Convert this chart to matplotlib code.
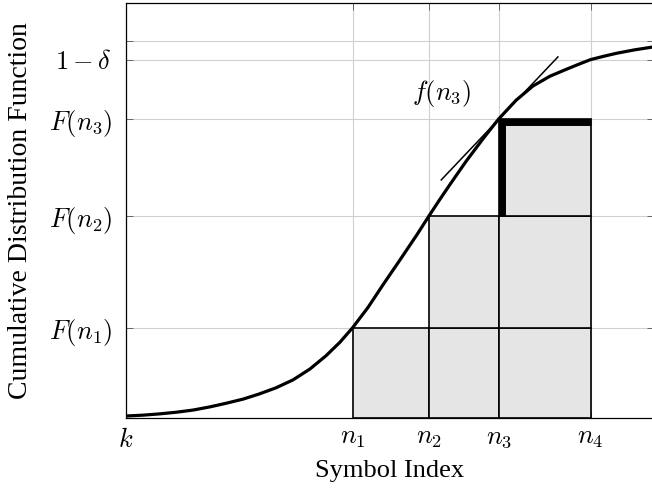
"""
CDF of the symbol index with the staircase of decoding cells
"""
import matplotlib
matplotlib.use('Agg')
import matplotlib.pyplot as plt
from matplotlib.transforms import offset_copy

plt.rcParams['mathtext.fontset'] = 'cm'
plt.rcParams['font.family'] = ['Liberation Serif', 'DejaVu Serif']

# curve
cdf_x = [0.0, 0.32, 0.625, 0.947, 1.269, 1.591, 1.894, 2.216, 2.519, 2.841,
         3.163, 3.485, 3.788, 4.053, 4.29, 4.583, 4.867, 5.189, 5.511, 5.74,
         5.947, 6.136, 6.439, 6.761, 7.06, 7.386, 7.708, 8.030, 8.352, 8.598,
         8.80, 9.053, 9.299, 9.640, 9.962, 10.0]
cdf_y = [0.0053, 0.0075, 0.0108, 0.0152, 0.021, 0.0295, 0.039, 0.050, 0.0635,
         0.080, 0.101, 0.130, 0.165, 0.201, 0.239, 0.293, 0.353, 0.419, 0.486,
         0.536, 0.580, 0.619, 0.680, 0.740, 0.793, 0.842, 0.880, 0.906, 0.925,
         0.939, 0.95, 0.959, 0.967, 0.976, 0.983, 0.9835]

n_pos = [4.29, 5.74, 7.06, 8.80]
n_labels = ['$n_1$', '$n_2$', '$n_3$', '$n_4$']
F_vals = [0.239, 0.536, 0.793]
F_labels = ['$F(n_1)$', '$F(n_2)$', '$F(n_3)$']
one_minus_delta = 0.95
top_level = 1.0

tangent_x = [5.97, 8.18]
tangent_y = [0.631, 0.957]
tangent_label = '$f(n_3)$'
tangent_label_pos = (5.98, 0.861)

fs = 19

fig = plt.figure(figsize=(6.52, 4.93), dpi=100)
ax = fig.add_axes([126 / 652, 75 / 493, 528 / 652, 415 / 493])

# gray cells
for i in range(3):
    for j in range(i + 1):
        bottom = 0 if j == 0 else F_vals[j - 1]
        ax.bar(n_pos[i], F_vals[j] - bottom, width=n_pos[i + 1] - n_pos[i],
               bottom=bottom, align='edge', color='#e5e5e5',
               edgecolor='black', linewidth=1.2, zorder=2)

# thick borders of the last cell, drawn inset
down = offset_copy(ax.transData, fig=fig, x=0, y=-2.5, units='points')
right = offset_copy(ax.transData, fig=fig, x=2.5, y=0, units='points')
ax.plot([n_pos[2], n_pos[3]], [F_vals[2], F_vals[2]], color='black', lw=5,
        solid_capstyle='butt', transform=down, zorder=3)
ax.plot([n_pos[2], n_pos[2]], [F_vals[1], F_vals[2]], color='black', lw=5,
        solid_capstyle='butt', transform=right, zorder=3)

ax.plot(cdf_x, cdf_y, color='black', lw=2.3, zorder=4,
        solid_joinstyle='round')
ax.plot(tangent_x, tangent_y, color='black', lw=1.1, zorder=4)
ax.text(tangent_label_pos[0], tangent_label_pos[1], tangent_label,
        fontsize=fs, ha='center', va='center')

ax.set_xlim(0, 10)
ax.set_ylim(0, 1.1)
ax.set_xticks([0] + n_pos)
ax.set_xticklabels(['$k$'] + n_labels, fontsize=fs)
ax.set_yticks(F_vals + [one_minus_delta, top_level])
ax.set_yticklabels(F_labels + [r'$1-\delta$', ''], fontsize=fs)
ax.tick_params(direction='in', length=5, width=0.6, color='#555555',
               top=True, right=True, pad=7)
ax.tick_params(axis='y', pad=10)
ax.grid(True, color='#d0d0d0', lw=0.8, zorder=0)
ax.set_axisbelow(True)
for s in ax.spines.values():
    s.set_linewidth(0.9)

ax.set_xlabel('Symbol Index', fontsize=fs, labelpad=6)
ax.set_ylabel('Cumulative Distribution Function', fontsize=20, labelpad=11)

fig.savefig('out.png', dpi=100)
